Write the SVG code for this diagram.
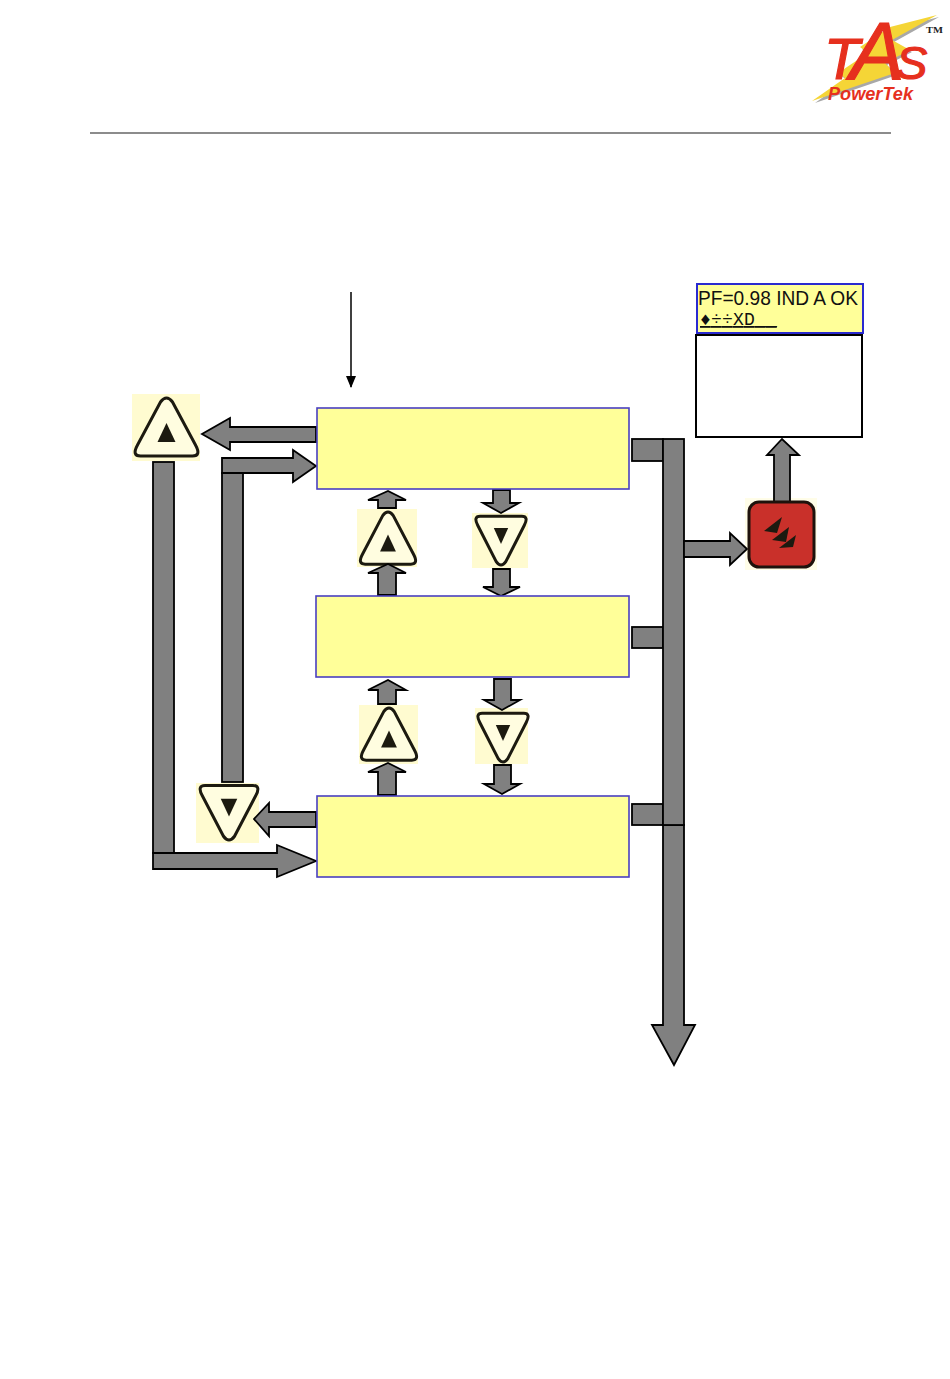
<svg xmlns="http://www.w3.org/2000/svg" width="950" height="1379" viewBox="0 0 950 1379">
<style>
.a{fill:#808080;stroke:#000;stroke-width:1.800;stroke-linejoin:miter}
.box{fill:#ffff99;stroke:#4a40c0;stroke-width:1.600}
.bg{fill:#fffbd0}
.tri{fill:#fffde0;stroke:#1c1a10;stroke-width:3;stroke-linejoin:round}
.ink{fill:#1c1a10}
.sans{font-family:"Liberation Sans",Arial,sans-serif}
.mono{font-family:"Liberation Mono","DejaVu Sans Mono",monospace}
.logo{fill:#e6301e;stroke:#e6301e;stroke-width:1.200;font-style:italic}
</style>
<defs>
<g id="up">
<path class="tri" vector-effect="non-scaling-stroke" d="M-6 4Q0-4 6 4L29 47Q35 58 26 58L-26 58Q-35 58-29 47Z"/>
<path class="ink" d="M0 25L9 44L-9 44Z"/>
</g>
<marker id="thin" markerWidth="14" markerHeight="14" refX="11" refY="5" orient="auto" markerUnits="userSpaceOnUse"><path d="M0 0L12 5L0 10Z" fill="#000"/></marker>
</defs>
<rect width="950" height="1379" fill="#fff"/>
<g id="logo">
<polygon points="939,17 894,42 912,52 887,65 897,75 815,103 847,80 840,75 870,55 862,49 892,29" fill="#a8a8a8"/>
<polygon points="937,15 892,40 910,50 885,63 895,73 812,101 845,78 838,73 868,53 860,47 890,27" fill="#f5d536"/>
<text class="sans logo" y="79"><tspan x="824" font-size="58">T</tspan><tspan x="850" font-size="82">A</tspan><tspan x="896" font-size="47">S</tspan></text>
<text class="sans" x="828" y="100" font-size="18" font-style="italic" font-weight="bold" fill="#e6301e" textLength="85" lengthAdjust="spacingAndGlyphs">PowerTek</text>
<text x="926" y="33" font-family="Liberation Serif,serif" font-size="9" font-weight="bold" fill="#222" textLength="17" lengthAdjust="spacingAndGlyphs">TM</text>
</g>
<rect id="rule" x="90" y="132" width="801" height="2" fill="#8c8c8c"/>
<g id="node-up-left"><rect class="bg" x="132" y="394" width="68" height="67"/><use href="#up" transform="translate(166.500 398) scale(1 1)"/></g>
<g id="node-up-1"><rect class="bg" x="357" y="509" width="60" height="58"/><use href="#up" transform="translate(388 512) scale(.88 .9)"/></g>
<g id="node-down-1"><rect class="bg" x="472" y="513" width="56" height="55"/><use href="#up" transform="translate(501 565) scale(.8 -.84)"/></g>
<g id="node-up-2"><rect class="bg" x="359" y="705" width="59" height="59"/><use href="#up" transform="translate(389 708) scale(.88 .9)"/></g>
<g id="node-down-2"><rect class="bg" x="475" y="708" width="53" height="56"/><use href="#up" transform="translate(503 762) scale(.8 -.84)"/></g>
<g id="node-down-left"><rect class="bg" x="196" y="783" width="63" height="60"/><use href="#up" transform="translate(229 840) scale(.92 -.94)"/></g>
<rect x="745" y="498" width="72" height="72" fill="#fffde8"/>
<g id="connectors">
<line x1="351" y1="292" x2="351" y2="387" stroke="#000" stroke-width="1.500" marker-end="url(#thin)"/>
<polygon class="a" points="316,427 230,427 230,418 202,434 230,450 230,442 316,442"/>
<rect class="a" x="222" y="473" width="21" height="309"/>
<polygon class="a" points="222,458 293,458 293,450 316,466 293,482 293,473 222,473"/>
<rect class="a" x="153" y="462" width="21" height="391"/>
<polygon class="a" points="153,853 277,853 277,845 316,861 277,877 277,869 153,869"/>
<polygon class="a" points="316,812 269,812 269,803 254,819 269,836 269,827 316,827"/>
<polygon class="a" points="378,508 378,500 368,500 388,491 406,500 396,500 396,508"/>
<polygon class="a" points="378,595 378,573 368,573 388,564 406,573 396,573 396,595"/>
<polygon class="a" points="493,490 493,503 483,503 501,513 519,503 510,503 510,490"/>
<polygon class="a" points="493,569 493,587 483,587 501,596 520,587 510,587 510,569"/>
<polygon class="a" points="378,704 378,690 368,690 388,680 406,690 396,690 396,704"/>
<polygon class="a" points="378,795 378,772 368,772 388,763 406,772 396,772 396,795"/>
<polygon class="a" points="494,679 494,700 484,700 502,710 520,700 511,700 511,679"/>
<polygon class="a" points="494,765 494,784 484,784 502,794 520,784 511,784 511,765"/>
<rect class="a" x="632" y="439" width="31" height="22"/>
<rect class="a" x="632" y="627" width="31" height="21"/>
<rect class="a" x="632" y="804" width="31" height="21"/>
<polygon class="a" points="663,825 663,1025 652,1025 674,1065 695,1025 684,1025 684,825"/>
<rect class="a" x="663" y="439" width="21" height="386"/>
<polygon class="a" points="684,541 730,541 730,533 747,549 730,565 730,557 684,557"/>
<polygon class="a" points="774,503 774,455 767,455 782,439 799,455 790,455 790,503"/>
</g>
<g id="node-box-1"><rect class="box" x="317" y="408" width="312" height="81"/></g>
<g id="node-box-2"><rect class="box" x="316" y="596" width="313" height="81"/></g>
<g id="node-box-3"><rect class="box" x="317" y="796" width="312" height="81"/></g>
<g id="node-enter">
<rect x="749" y="502" width="65" height="65" rx="10" fill="#c9302a" stroke="#1e120c" stroke-width="3"/>
<polygon class="ink" points="764,531 782,517 777,533"/><polygon class="ink" points="772,540 789,527 786,542"/><polygon class="ink" points="779,548 796,535 793,547"/>
</g>
<g id="node-lcd">
<rect x="697" y="284" width="166" height="49" fill="#ffff99" stroke="#2a2ad0" stroke-width="2"/>
<text class="sans" x="698" y="305" font-size="20.500" fill="#111" textLength="160" lengthAdjust="spacingAndGlyphs">PF=0.98 IND A OK</text>
<text class="mono" y="325" font-size="18" fill="#111" text-decoration="underline" x="700 711 722 733 744 755 766">♦÷÷XD__</text>
</g>
<g id="node-panel"><rect x="696" y="335" width="166" height="102" fill="#fff" stroke="#000" stroke-width="2"/></g>
</svg>
